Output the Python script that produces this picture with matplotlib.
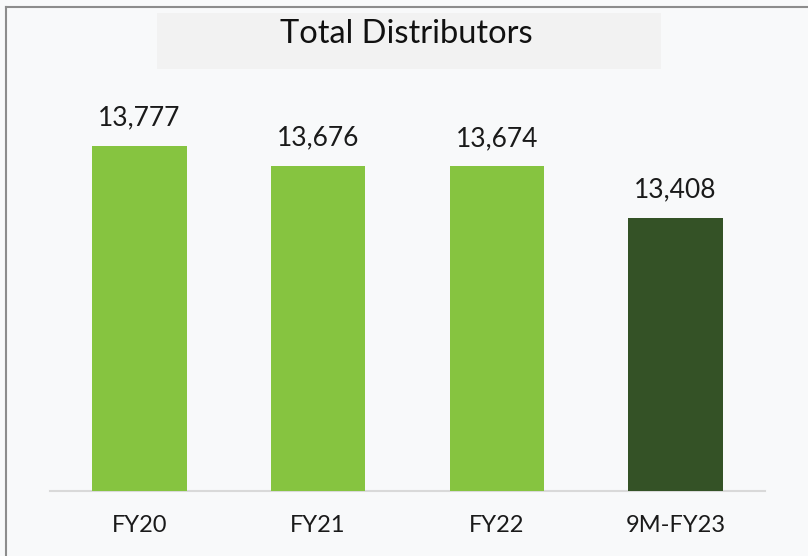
import matplotlib
matplotlib.use('Agg')
import matplotlib.pyplot as plt
from matplotlib.patches import Rectangle

# data
categories = ['FY20', 'FY21', 'FY22', '9M-FY23']
values = [13777, 13676, 13674, 13408]
bar_colors = ['#86c440', '#86c440', '#86c440', '#345226']

plt.rcParams['font.family'] = ['Lato', 'DejaVu Sans']

fig = plt.figure(figsize=(8.08, 5.56), dpi=100)
fig.patch.set_facecolor('#f8f9fa')

# frame lines (top and left)
fig.add_artist(plt.Line2D([6 / 808, 6 / 808], [0, 1 - 7 / 556], color='#8c8c8c', lw=1.5))
fig.add_artist(plt.Line2D([6 / 808, 1], [1 - 7 / 556, 1 - 7 / 556], color='#8c8c8c', lw=1.5))

# title box
fig.add_artist(Rectangle((157 / 808, 1 - 69 / 556), (661 - 157) / 808, (69 - 13) / 556,
                         transform=fig.transFigure, facecolor='#f2f2f2', edgecolor='none'))
fig.text(406 / 808, 1 - 34 / 556, 'Total Distributors', ha='center', va='center',
         fontsize=23.5, color='#111111')

# axes: x from 50 to 765 px, baseline at 491 px, top at 100 px
ax = fig.add_axes([50 / 808, 1 - 491 / 556, (765 - 50) / 808, (491 - 100) / 556])
ax.set_facecolor('none')

x = range(len(categories))
ax.bar(x, values, width=0.53, color=bar_colors, zorder=3)

y0 = 12009
ax.set_ylim(y0, y0 + (491 - 100) / 0.1951)
ax.set_xlim(-0.5, 3.5)

for xi, v in zip(x, values):
    ax.annotate(f'{v:,}', xy=(xi, v), xytext=(0, 11), textcoords='offset points',
                ha='center', va='bottom', fontsize=19, color='#1a1a1a')

ax.set_xticks(list(x))
ax.set_xticklabels(categories, fontsize=17, color='#1a1a1a')
ax.tick_params(axis='x', length=0, pad=17)
ax.set_yticks([])
for side in ['top', 'right', 'left']:
    ax.spines[side].set_visible(False)
ax.spines['bottom'].set_color('#d9d9d9')
ax.spines['bottom'].set_linewidth(1.5)

fig.savefig('out.png', dpi=100, facecolor=fig.get_facecolor())
